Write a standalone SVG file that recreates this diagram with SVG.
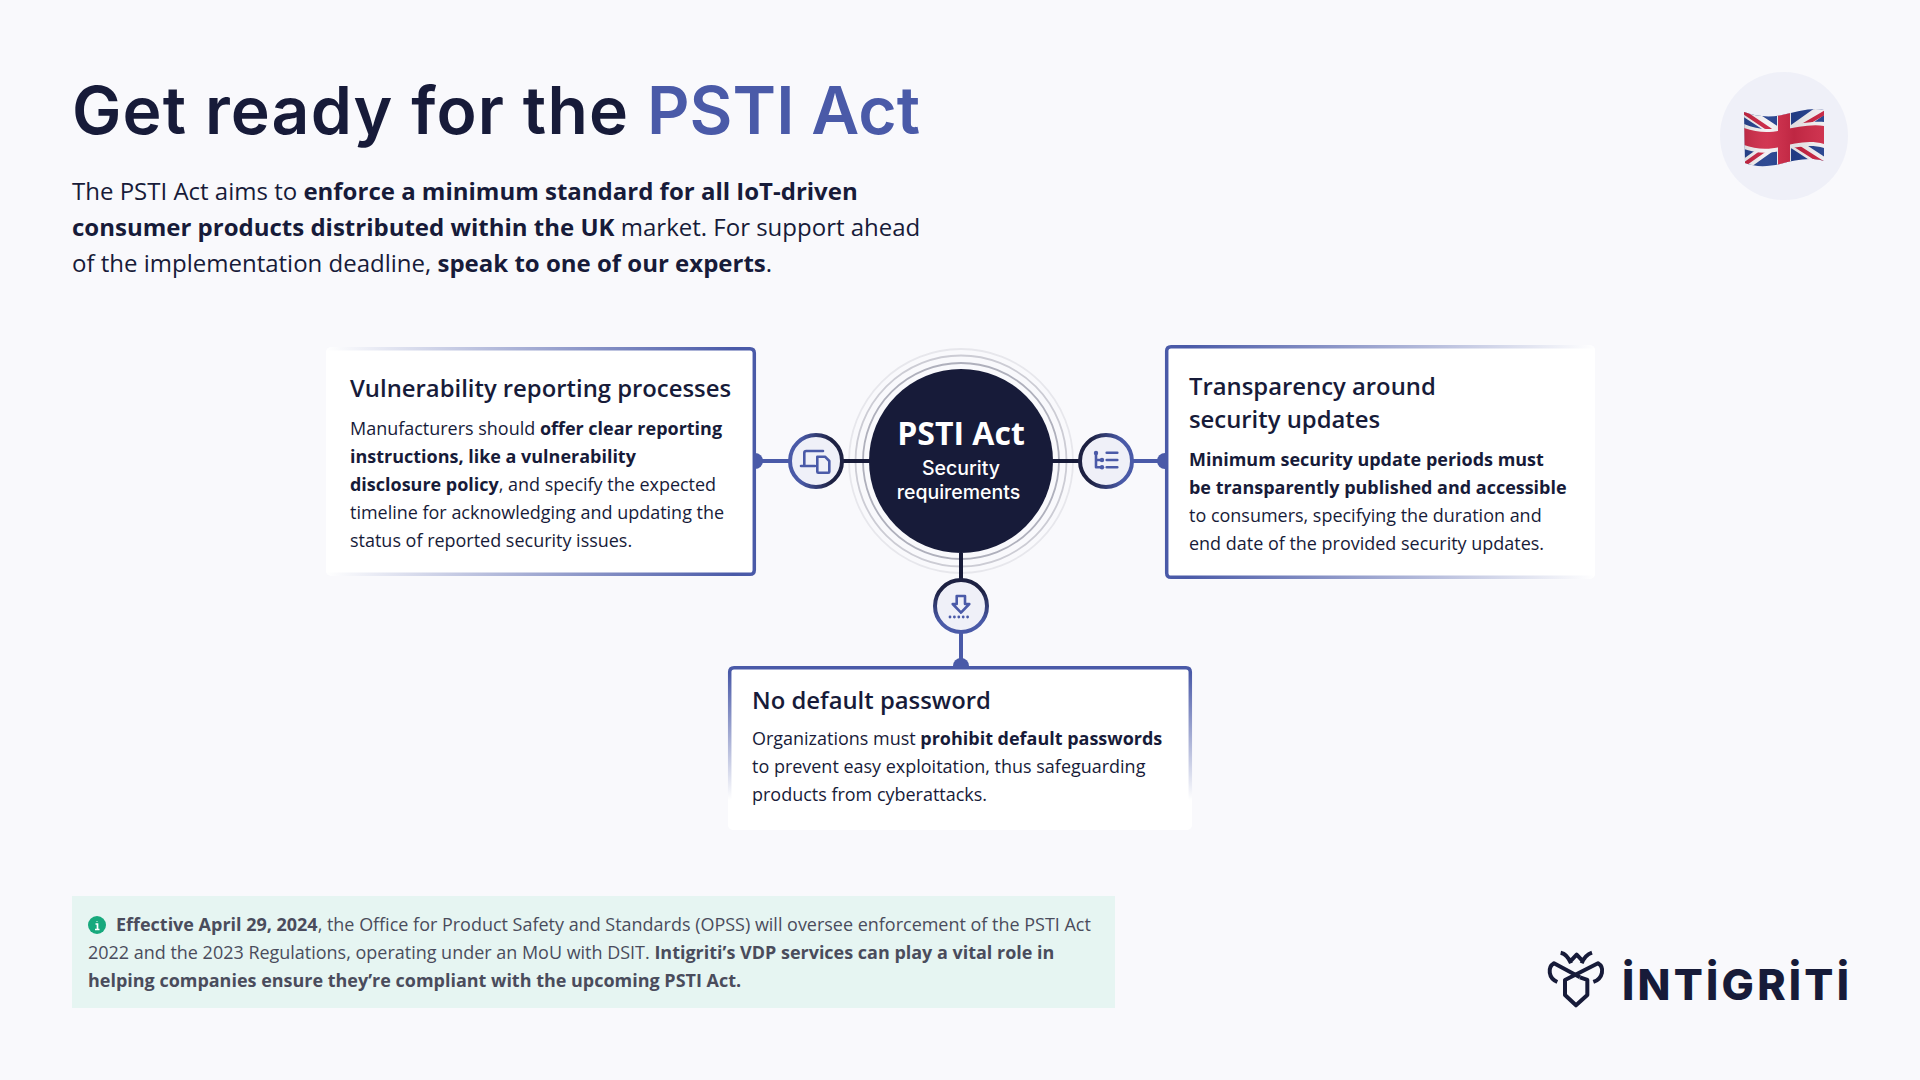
<svg xmlns="http://www.w3.org/2000/svg" width="1920" height="1080" viewBox="0 0 1920 1080">
<style>
text{font-family:"Open Sans","Noto Sans",sans-serif;fill:#171b39}
.h{font-size:23.850px;font-weight:600}
.b{font-size:17.980px}
.s{font-size:24px}
.n{font-size:17.980px;fill:#4a4c5c}
.bd{font-weight:700}
.t{font-family:Inter,"Open Sans",sans-serif;font-size:66px;font-weight:600}
.m{fill:#fff;font-family:Inter,sans-serif;font-size:19.500px;font-weight:500}
.ic{fill:none;stroke:#4a5aa8;stroke-width:2.600;stroke-linecap:round;stroke-linejoin:round}
.c{fill:#eff0f8;stroke-width:4}
.e{fill:none;stroke-width:3.500}
</style>
<defs>
<linearGradient id="gl" gradientUnits="userSpaceOnUse" x1="326" y1="0" x2="755" y2="0"><stop offset="0" stop-color="#4a5aa8" stop-opacity="0"/><stop offset=".95" stop-color="#4a5aa8"/></linearGradient>
<linearGradient id="gr" gradientUnits="userSpaceOnUse" x1="1595" y1="0" x2="1165" y2="0"><stop offset="0" stop-color="#4a5aa8" stop-opacity="0"/><stop offset=".95" stop-color="#4a5aa8"/></linearGradient>
<linearGradient id="gb" gradientUnits="userSpaceOnUse" x1="0" y1="800" x2="0" y2="666"><stop offset="0" stop-color="#4a5aa8" stop-opacity="0"/><stop offset=".95" stop-color="#4a5aa8"/></linearGradient>
<linearGradient id="rl" x1="0" y1="0" x2="1" y2="0"><stop offset=".2" stop-color="#4a5aa8"/><stop offset=".8" stop-color="#1d2142"/></linearGradient>
<linearGradient id="rr" x1="0" y1="0" x2="1" y2="0"><stop offset=".2" stop-color="#1d2142"/><stop offset=".8" stop-color="#4a5aa8"/></linearGradient>
<linearGradient id="rb" x1="0" y1="0" x2="0" y2="1"><stop offset=".2" stop-color="#1d2142"/><stop offset=".8" stop-color="#4a5aa8"/></linearGradient>
<clipPath id="flagclip"><path d="M1744 112C1755 116 1768 118 1782 115C1797 112 1812 107 1824 110L1824 161C1810 157 1795 160 1780 164C1767 167 1755 167 1745 163Z"/></clipPath>
<linearGradient id="sheen" x1="0" y1="0" x2="1" y2="0"><stop offset="0" stop-color="#000" stop-opacity=".12"/><stop offset=".3" stop-color="#fff" stop-opacity=".06"/><stop offset=".6" stop-color="#000" stop-opacity=".08"/><stop offset="1" stop-color="#fff" stop-opacity=".06"/></linearGradient>
</defs>
<rect width="1920" height="1080" fill="#f9f9fc"/>

<g id="header">
<text class="t" x="72" y="134" textLength="556">Get ready for the</text>
<text class="t" x="647" y="134" textLength="273" style="fill:#4a5aa8">PSTI Act</text>
<text class="s" x="72" y="200">The PSTI Act aims to <tspan class="bd">enforce a minimum standard for all IoT-driven</tspan></text>
<text class="s" x="72" y="236"><tspan class="bd">consumer products distributed within the UK</tspan> market. For support ahead</text>
<text class="s" x="72" y="272">of the implementation deadline, <tspan class="bd">speak to one of our experts</tspan>.</text>
</g>

<g id="flag">
<circle cx="1784" cy="136" r="64" fill="#eff0f8"/>
<g clip-path="url(#flagclip)">
<rect x="1740" y="100" width="90" height="70" fill="#23408e"/>
<path d="M1740 108L1830 167M1740 168L1830 104" stroke="#f3f1f3" stroke-width="11"/>
<path d="M1742 111L1776 134M1790 133L1826 112M1742 166L1776 142M1790 142L1826 165" stroke="#c8213f" stroke-width="4"/>
<path d="M1777 100h14v70h-14z" fill="#f3f1f3"/>
<path d="M1744 124C1758 130 1770 130 1782 127C1797 124 1812 121 1824 122L1824 148C1810 144 1795 147 1780 151C1767 154 1755 153 1744 149Z" fill="#f3f1f3"/>
<path d="M1744 128C1758 133 1770 133 1782 130C1797 127 1812 124 1824 126L1824 144C1810 140 1795 143 1780 147C1767 150 1755 149 1744 145Z" fill="#cf2a48"/>
<rect x="1778" y="100" width="12" height="70" fill="#cf2a48"/>
<rect x="1740" y="100" width="90" height="70" fill="url(#sheen)"/>
</g>
</g>

<g id="connectors">
<path d="M840 461H870M1052 461H1082M961 553V582" stroke="#171b39" stroke-width="4" fill="none"/>
<path d="M755 461H792M1130 461H1165M961 630V667" stroke="#4a5aa8" stroke-width="4" fill="none"/>
<circle cx="755" cy="461" r="8" fill="#4a5aa8"/>
<circle cx="1165" cy="461" r="8" fill="#4a5aa8"/>
<circle cx="961" cy="666" r="8" fill="#4a5aa8"/>
</g>

<g id="card-vulnerability">
<rect x="326" y="347" width="430" height="229" rx="5" fill="#fff"/>
<path class="e" d="M326 348.700H750Q754.300 348.700 754.300 353V570Q754.300 574.300 750 574.300H326" stroke="url(#gl)"/>
<text class="h" x="350" y="397">Vulnerability reporting processes</text>
<text class="b" x="350" y="435">Manufacturers should <tspan class="bd">offer clear reporting</tspan></text>
<text class="b bd" x="350" y="463">instructions, like a vulnerability</text>
<text class="b" x="350" y="491"><tspan class="bd">disclosure policy</tspan>, and specify the expected</text>
<text class="b" x="350" y="519">timeline for acknowledging and updating the</text>
<text class="b" x="350" y="547">status of reported security issues.</text>
</g>

<g id="card-transparency">
<rect x="1165" y="345" width="430" height="234" rx="5" fill="#fff"/>
<path class="e" d="M1595 346.700H1171Q1166.700 346.700 1166.700 351V573Q1166.700 577.300 1171 577.300H1595" stroke="url(#gr)"/>
<text class="h" x="1189" y="395">Transparency around</text>
<text class="h" x="1189" y="428">security updates</text>
<text class="b bd" x="1189" y="466">Minimum security update periods must</text>
<text class="b bd" x="1189" y="494">be transparently published and accessible</text>
<text class="b" x="1189" y="522">to consumers, specifying the duration and</text>
<text class="b" x="1189" y="550">end date of the provided security updates.</text>
</g>

<g id="card-password">
<rect x="728" y="666" width="464" height="164" rx="5" fill="#fff"/>
<path class="e" d="M729.700 830V672Q729.700 667.700 734 667.700H1186Q1190.300 667.700 1190.300 672V830" stroke="url(#gb)"/>
<text class="h" x="752" y="709">No default password</text>
<text class="b" x="752" y="745">Organizations must <tspan class="bd">prohibit default passwords</tspan></text>
<text class="b" x="752" y="773">to prevent easy exploitation, thus safeguarding</text>
<text class="b" x="752" y="801">products from cyberattacks.</text>
</g>

<g id="center">
<circle cx="961" cy="461" r="112" fill="none" stroke="#171b39" stroke-opacity=".08" stroke-width="1.800"/>
<circle cx="961" cy="461" r="105.500" fill="none" stroke="#171b39" stroke-opacity=".2" stroke-width="1.800"/>
<circle cx="961" cy="461" r="98" fill="none" stroke="#171b39" stroke-opacity=".33" stroke-width="1.800"/>
<circle cx="961" cy="461" r="92" fill="#171b39"/>
<text x="961" y="445" text-anchor="middle" font-size="32" font-weight="700" style="fill:#fff">PSTI Act</text>
<text class="m" x="961" y="475" text-anchor="middle">Security</text>
<text class="m" x="958.500" y="499" text-anchor="middle">requirements</text>
</g>

<g id="icon-left">
<circle class="c" cx="816" cy="461" r="26" stroke="url(#rl)"/>
<path class="ic" d="M804.300 466V453Q804.300 451 806.300 451H823M801 466H815"/>
<path class="ic" d="M817.300 456.700H825L829.300 461V471.700Q829.300 472.700 828.300 472.700H818.300Q817.300 472.700 817.300 471.700Z"/>
</g>
<g id="icon-right">
<circle class="c" cx="1106" cy="461" r="26" stroke="url(#rr)"/>
<path class="ic" d="M1096 453V467.300H1102M1096 460H1102M1106.700 452.700H1117.300M1106.700 460H1117.300M1106.700 467.300H1117.300"/>
<circle cx="1096" cy="453" r="2.200" fill="#4a5aa8"/><circle cx="1102" cy="460" r="2.200" fill="#4a5aa8"/><circle cx="1102" cy="467.300" r="2.200" fill="#4a5aa8"/>
</g>
<g id="icon-bottom">
<circle class="c" cx="961" cy="606" r="26" stroke="url(#rb)"/>
<path class="ic" d="M956.700 596H965V604H969.300L961 612.700L952.700 604H956.700Z"/>
<path d="M950 617H972" stroke="#4a5aa8" stroke-width="2.800" stroke-linecap="round" stroke-dasharray="0 4.400" fill="none"/>
</g>

<g id="note">
<rect x="72" y="896" width="1043" height="112" fill="#e6f5f2"/>
<circle cx="97" cy="925" r="9" fill="#17a97d"/>
<path d="M97 921v.5M95.500 924H97.500V929M95 929.500H99.500" stroke="#fff" stroke-width="1.700" fill="none"/>
<text class="n" x="116" y="931"><tspan class="bd">Effective April 29, 2024</tspan>, the Office for Product Safety and Standards (OPSS) will oversee enforcement of the PSTI Act</text>
<text class="n" x="88" y="959">2022 and the 2023 Regulations, operating under an MoU with DSIT. <tspan class="bd">Intigriti’s VDP services can play a vital role in</tspan></text>
<text class="n bd" x="88" y="987">helping companies ensure they’re compliant with the upcoming PSTI Act.</text>
</g>

<g id="logo">
<g transform="translate(1530 930) scale(.3333)" fill="none" stroke="#171b39" stroke-width="12" stroke-linejoin="round">
<path d="M92 68Q112 72 123 100M123 92L140 74L157 92M155 100Q165 75 186 68"/>
<path d="M82 156C55 145 52 112 72 100L150 142"/>
<path d="M190 156C220 145 224 112 204 100L105 150V195L138 226L172 195V150L150 142"/>
</g>
<text x="1622" y="1000" textLength="227" style="font-family:Inter,sans-serif;font-size:43px;font-weight:800">İNTİGRİTİ</text>
</g>
</svg>
